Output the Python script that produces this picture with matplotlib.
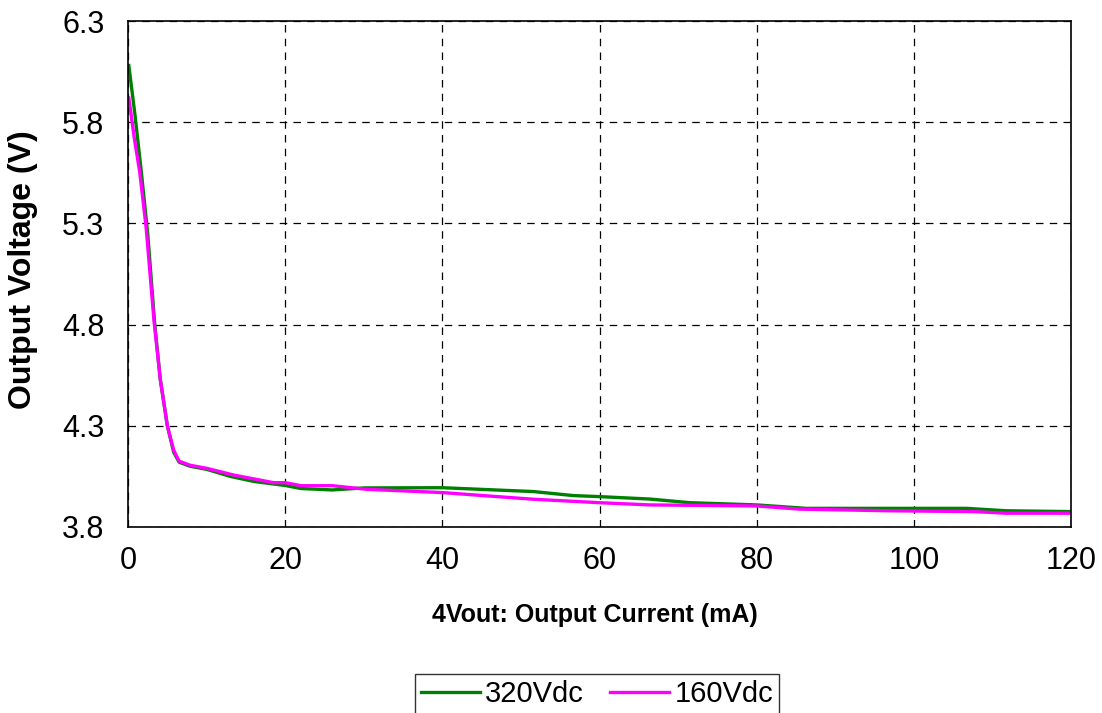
import matplotlib.pyplot as plt

plt.rcParams['font.family'] = ['Liberation Sans', 'DejaVu Sans']

# 320Vdc input
i_320 = [0.1, 0.9, 1.7, 2.5, 3.4, 4.1, 5.0, 5.8, 6.5, 7.9, 10.0, 13.0, 16.0, 20.0, 22.0,
         26.0, 30.0, 40.0, 51.6, 56.7, 60.0, 66.4, 71.5, 80.0, 86.3, 100.0, 106.7, 111.8, 120.0]
v_320 = [6.08, 5.83, 5.55, 5.25, 4.80, 4.53, 4.30, 4.17, 4.12, 4.10, 4.085, 4.05, 4.025, 4.005, 3.99,
         3.983, 3.993, 3.994, 3.975, 3.955, 3.95, 3.938, 3.92, 3.909, 3.892, 3.892, 3.892, 3.88, 3.876]

# 160Vdc input
i_160 = [0.1, 0.8, 1.5, 2.3, 3.3, 4.1, 5.0, 5.8, 6.5, 7.9, 10.0, 13.4, 18.5, 20.0, 22.0,
         26.0, 30.4, 40.0, 51.6, 60.0, 66.4, 72.0, 80.0, 85.5, 97.0, 107.6, 111.8, 120.0]
v_160 = [5.92, 5.72, 5.55, 5.28, 4.82, 4.53, 4.30, 4.18, 4.125, 4.105, 4.09, 4.057, 4.019, 4.019, 4.004,
         4.004, 3.986, 3.970, 3.937, 3.920, 3.909, 3.907, 3.904, 3.888, 3.880, 3.876, 3.868, 3.868]

xticks = [0, 20, 40, 60, 80, 100, 120]
yticks = [3.8, 4.3, 4.8, 5.3, 5.8, 6.3]

fig = plt.figure(figsize=(11.02, 7.13), dpi=100)
ax = fig.add_axes([0.1162, 0.2609, 0.8557, 0.7096])

ax.plot(i_320, v_320, color='#008000', lw=2.4, label='320Vdc')
ax.plot(i_160, v_160, color='#FF00FF', lw=2.4, label='160Vdc')

ax.set_xlim(0, 120)
ax.set_ylim(3.8, 6.3)
ax.set_xticks(xticks)
ax.set_yticks(yticks)
ax.set_yticklabels([f'{t:.1f}' for t in yticks])
ax.tick_params(labelsize=22, length=0)
ax.tick_params(axis='x', pad=14)
ax.tick_params(axis='y', pad=17)
ax.grid(True, color='black', linestyle=(0, (6, 5)), lw=0.9)
for s in ax.spines.values():
    s.set_color('black')
    s.set_linewidth(1.2)

fig.text(0.540, 0.1374, '4Vout: Output Current (mA)', fontsize=18, fontweight='bold',
         ha='center', va='center')
fig.text(0.0209, 0.622, 'Output Voltage (V)', fontsize=23, fontweight='bold',
         ha='center', va='center', rotation=90)

leg = fig.legend(loc='upper center', bbox_to_anchor=(0.542, 0.0745), ncol=2, fontsize=21,
                 frameon=True, fancybox=False, edgecolor='black', handlelength=2.0,
                 handletextpad=0.2, columnspacing=0.9, borderpad=0.2)
leg.get_frame().set_linewidth(1.0)

fig.savefig('out.png', dpi=100)
